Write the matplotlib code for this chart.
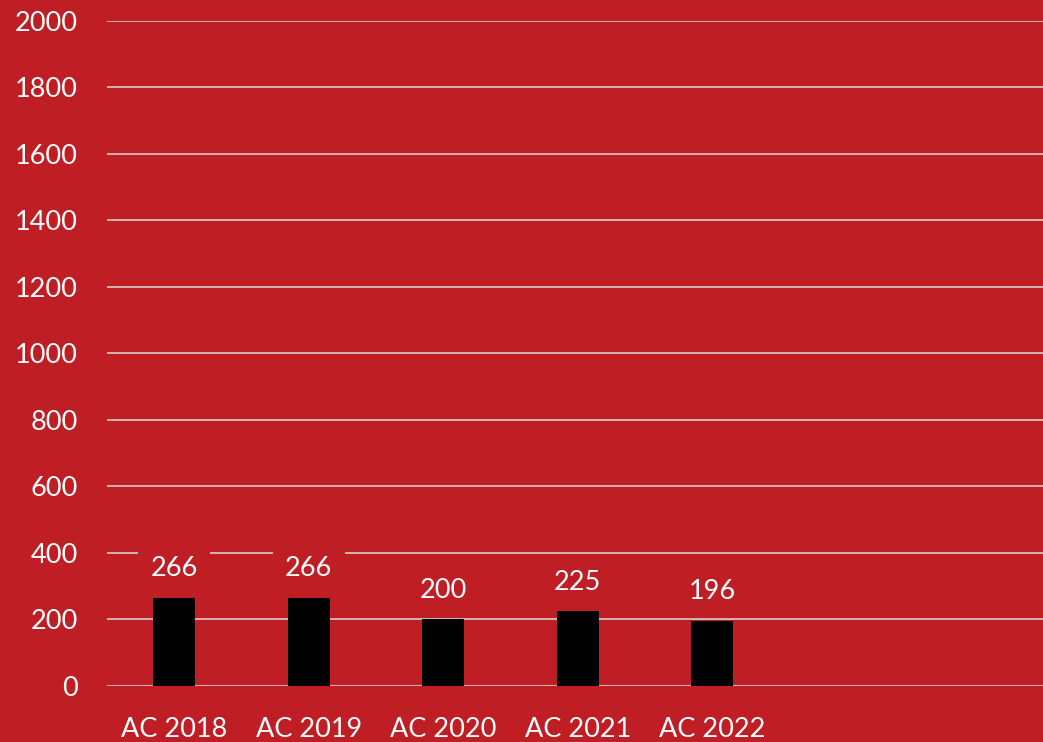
import matplotlib.pyplot as plt

years = ['AC 2018', 'AC 2019', 'AC 2020', 'AC 2021', 'AC 2022']
counts = [266, 266, 200, 225, 196]
n_slots = 7  # chart area leaves room for two more (empty) categories

bg = '#BE1E24'
plt.rcParams['font.family'] = ['Lato', 'DejaVu Sans']

fig = plt.figure(figsize=(10.43, 7.42), dpi=100, facecolor=bg)
ax = fig.add_axes([0.1026, 0.0755, 0.9027, 0.8962])
ax.set_facecolor(bg)

x = list(range(len(years)))
ax.bar(x, counts, width=0.31, color='black', zorder=3)

for xi, v in zip(x, counts):
    ax.annotate(str(v), (xi, v), xytext=(0, 21), textcoords='offset points',
                ha='center', va='center', color='white', fontsize=19.5, zorder=4,
                bbox=dict(boxstyle='square,pad=0.45', fc=bg, ec='none'))

ax.set_xlim(-0.5, n_slots - 0.5)
ax.set_ylim(0, 2000)
ax.set_yticks(range(0, 2001, 200))
ax.set_xticks(x)
ax.set_xticklabels(years)
ax.grid(axis='y', color='#DCDCDC', linewidth=1.1, zorder=0)
ax.set_axisbelow(True)
for s in ax.spines.values():
    s.set_visible(False)
ax.tick_params(axis='x', length=0, pad=22, labelsize=19.5, labelcolor='white')
ax.tick_params(axis='y', length=0, pad=21, labelsize=19.5, labelcolor='white')

fig.savefig('out.png', dpi=100, facecolor=bg)
